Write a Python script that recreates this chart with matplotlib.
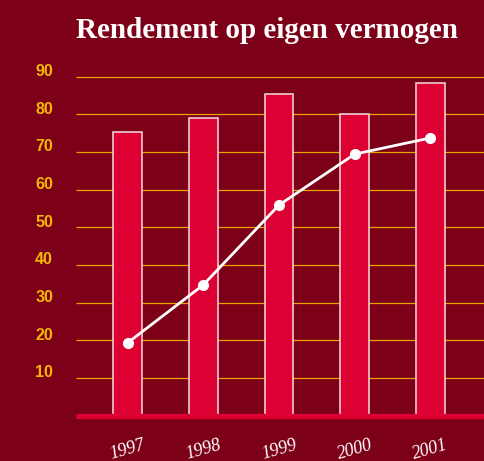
import matplotlib.pyplot as plt
import numpy as np
from matplotlib.transforms import offset_copy

# data
years = ['1997', '1998', '1999', '2000', '2001']
bar_values = [75.3, 79.0, 85.4, 80.0, 88.2]
line_values = [19.3, 34.7, 55.9, 69.4, 73.7]
yticks = [10, 20, 30, 40, 50, 60, 70, 80, 90]

bg = '#7d0019'
red = '#dd0033'
gold = '#e8a300'
label_gold = '#f2b705'

fig = plt.figure(figsize=(4.85, 4.61), dpi=100, facecolor=bg)
ax = fig.add_axes([0.1567, 0.0983, 0.8433, 0.7766])
ax.set_facecolor(bg)

x = np.arange(len(years))
ax.set_xlim(-0.68, 4.72)
ax.set_ylim(0, 95)

# gridlines behind bars
for v in yticks:
    ax.axhline(v, color=gold, lw=0.9, zorder=1, solid_capstyle='butt')

ax.bar(x, bar_values, width=0.38, color=red, edgecolor='#f4dde2',
       linewidth=1.1, zorder=2)
ax.axhline(0, color=red, lw=3.8, zorder=3, clip_on=False,
           solid_capstyle='butt')

ax.plot(x, line_values, color='white', lw=2, marker='o', markersize=7,
        zorder=4, solid_capstyle='round')

# y labels sit a little above their gridlines
lab_tr = offset_copy(ax.get_yaxis_transform(), fig=fig, x=0, y=5, units='dots')
for v in yticks:
    ax.text(-0.056, v, str(v), transform=lab_tr, ha='right', va='center',
            color=label_gold, fontsize=11.5, fontweight='bold',
            family='Liberation Sans')

for xi, yr in zip(x, years):
    ax.text(xi, -8.9, yr, ha='center', va='center', rotation=16,
            color='white', fontsize=13, fontstyle='italic',
            family='Liberation Serif', clip_on=False)

ax.set_xticks([])
ax.set_yticks([])
for s in ax.spines.values():
    s.set_visible(False)

fig.text(0.5515, 0.9176, 'Rendement op eigen vermogen', ha='center',
         va='baseline', color='white', fontsize=21, fontweight='bold',
         family='Liberation Serif')

fig.savefig('out.png', dpi=100, facecolor=bg)
